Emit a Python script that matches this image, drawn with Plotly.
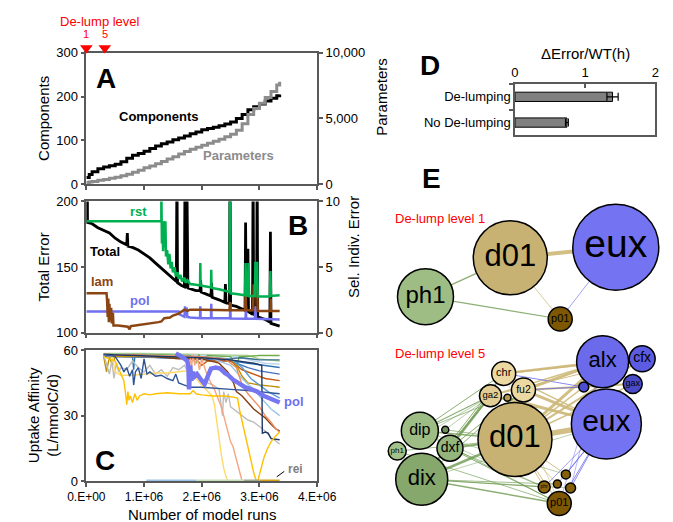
import plotly.graph_objects as go

W, H = 673, 522
FONT = "Liberation Sans, Arial, Helvetica, sans-serif"
AX = "#595959"

# ---------------- Panel A (runs in millions) ----------------
a_runs = [0, 0.05, 0.1, 0.2, 0.3, 0.4, 0.5, 0.6, 0.7, 0.8, 0.9, 1.0, 1.1, 1.2, 1.3, 1.4, 1.5, 1.6,
          1.7, 1.8, 1.9, 2.0, 2.1, 2.2, 2.3, 2.4, 2.5, 2.6, 2.7, 2.8, 2.9, 3.0, 3.1, 3.2, 3.3, 3.35]
a_components = [15, 22, 28, 35, 39, 42, 45, 51, 59, 66, 70, 75, 81, 87, 92, 96, 101, 105,
                110, 115, 119, 124, 127, 130, 133, 137, 142, 150, 159, 170, 177, 183, 190, 196, 202, 205]
a_parameters = [120, 150, 200, 280, 350, 430, 520, 620, 750, 900, 1050, 1230, 1380, 1550, 1720, 1900, 2080, 2280,
                2480, 2650, 2800, 2960, 3100, 3260, 3420, 3600, 3800, 4100, 4600, 5300, 5750, 6150, 6600, 7050, 7550, 7800]
delump_runs = [0, 0.32]
delump_levels = ["1", "5"]

# ---------------- Panel B ----------------
b_total_runs = [0, 0.005, 0.015, 0.02, 0.1, 0.2, 0.3, 0.4, 0.5, 0.6, 0.7, 0.71, 0.72, 0.8, 0.9, 1.0, 1.1, 1.2, 1.3,
                1.4, 1.5, 1.56, 1.57, 1.58, 1.65, 1.70, 1.71, 1.73, 1.74, 1.76, 1.9, 1.97, 1.98, 1.99, 2.1, 2.16,
                2.17, 2.18, 2.3, 2.4, 2.41, 2.42, 2.48, 2.49, 2.50, 2.6, 2.7, 2.75, 2.76, 2.77, 2.79, 2.80, 2.81,
                2.88, 2.89, 2.90, 2.95, 2.96, 2.97, 3.1, 3.18, 3.19, 3.2, 3.3, 3.35]
b_total = [183, 230, 230, 184, 183, 180, 178, 176, 172, 169, 167, 176, 166, 165, 163, 160, 157, 153, 149,
           145, 141, 139, 230, 138, 136, 135, 230, 134, 230, 134, 132, 132, 140, 131, 129, 128,
           138, 127, 125, 123, 137, 123, 122, 230, 121, 120, 118, 117, 184, 117, 116, 164, 116,
           114, 230, 114, 113, 230, 112, 110, 108, 177, 107, 106, 105]

b_rst_runs = [0, 1.30, 1.30, 1.305, 1.31, 1.32, 1.33, 1.34, 1.36, 1.37, 1.38, 1.40, 1.42, 1.44, 1.46, 1.48,
              1.50, 1.53, 1.55, 1.58, 1.60, 1.63, 1.66, 1.70, 1.72, 1.75, 1.80, 1.90, 1.97, 1.975, 1.98, 2.10,
              2.16, 2.165, 2.17, 2.30, 2.48, 2.49, 2.50, 2.60, 2.75, 2.76, 2.77, 2.80, 2.81, 2.82, 2.92, 2.93,
              2.96, 2.97, 3.10, 3.18, 3.19, 3.20, 3.35]
b_rst = [8.5, 8.5, 10.5, 8.5, 6.8, 8.5, 6.2, 8.5, 6.5, 8.5, 5.8, 6.3, 5.2, 6.0, 4.9, 5.4,
         4.6, 5.0, 4.3, 4.6, 4.1, 4.4, 3.9, 4.2, 3.8, 4.0, 3.7, 3.65, 3.6, 5.3, 3.6, 3.5,
         3.45, 4.8, 3.4, 3.3, 3.1, 10.5, 3.0, 2.95, 2.85, 5.3, 2.85, 2.8, 5.3, 2.8, 2.8, 5.3,
         5.3, 2.75, 2.75, 2.75, 4.7, 2.8, 2.85]

b_lam_runs = [0, 0.35, 0.36, 0.37, 0.38, 0.39, 0.40, 0.41, 0.43, 0.44, 0.46, 0.47, 0.55, 0.65, 0.72, 0.75,
              0.77, 0.85, 0.95, 1.05, 1.15, 1.25, 1.30, 1.35, 1.45, 1.50, 1.60, 1.65, 1.70, 1.75, 1.80, 2.0,
              2.2, 2.48, 2.49, 2.50, 2.75, 2.76, 2.77, 2.89, 2.90, 2.96, 2.97, 3.19, 3.195, 3.20, 3.35]
b_lam = [3.0, 3.0, 2.4, 1.2, 2.6, 0.8, 2.2, 0.9, 1.9, 0.7, 1.5, 0.55, 0.55, 0.5, 0.45, 0.25,
         0.5, 0.55, 0.6, 0.65, 0.7, 0.8, 0.85, 1.1, 1.15, 1.3, 1.45, 1.6, 1.75, 1.65, 1.75, 1.75,
         1.75, 1.7, 2.3, 1.7, 1.7, 3.0, 1.7, 1.7, 3.6, 3.6, 1.65, 1.65, 2.6, 1.65, 1.65]

b_pol_runs = [0, 1.60, 1.61, 1.65, 1.70, 1.71, 1.72, 1.74, 1.75, 1.80, 1.97, 1.975, 1.98, 2.16, 2.165, 2.17,
              2.49, 2.495, 2.50, 2.76, 2.765, 2.77, 2.92, 2.93, 2.94, 3.35]
b_pol = [1.6, 1.6, 1.4, 1.3, 1.2, 2.0, 1.3, 1.9, 1.2, 1.15, 1.1, 2.0, 1.1, 1.1, 2.2, 1.1,
         1.1, 2.3, 1.08, 1.05, 2.0, 1.05, 1.05, 2.0, 1.05, 1.0]

# ---------------- Panel C (uptake affinity per taxon) ----------------
c_gold_runs = [0.30, 0.40, 0.50, 0.55, 0.60, 0.65, 0.68, 0.70, 0.72, 0.74, 0.76, 0.80, 0.84, 0.88, 0.92, 1.00,
               1.10, 1.20, 1.40, 1.60, 1.80, 1.85, 1.90, 2.00, 2.20, 2.40, 2.55, 2.62, 2.66, 2.72, 2.78, 2.84,
               2.90, 2.94, 2.97, 3.02, 3.08, 3.14, 3.20, 3.26, 3.35]
c_gold = [57, 56, 55, 52, 49, 46, 40, 35, 41, 37, 39, 36, 40, 37, 39, 40,
          39.5, 40, 40.5, 40, 40, 41.5, 40, 39.5, 39, 39, 38.5, 38, 32, 25, 18, 10,
          4, 0.5, 0, 5, 11, 15, 18, 20, 22.5]
c_ltgold_runs = [0.30, 0.45, 0.50, 0.60, 0.80, 1.00, 1.20, 1.40, 1.60, 1.75, 1.80, 1.90, 2.00, 2.10, 2.18,
                 2.22, 2.26, 2.30, 2.34, 2.38, 2.42, 2.46, 2.55, 2.70]
c_ltgold = [58, 57, 50, 48.5, 48.5, 49, 49.5, 49.5, 50, 50.5, 49, 47, 44, 41, 39, 35, 27, 20, 12, 6, 2, 0, 0, 0]
c_salmon_runs = [0.30, 0.80, 1.20, 1.60, 1.80, 1.82, 1.85, 1.88, 1.92, 1.96, 2.00, 2.05, 2.10, 2.16, 2.22,
                 2.28, 2.34, 2.38, 2.42, 2.46, 2.50, 2.54, 2.58, 2.62, 2.66, 2.70]
c_salmon = [58, 57.5, 57.5, 57, 57, 52, 58, 53, 57, 51, 56, 52, 48, 45, 42, 38, 34, 30, 26, 22, 18, 16, 12, 8, 3, 0]
c_orange_runs = [0.30, 1.50, 2.00, 2.40, 2.60, 2.70, 2.80, 2.90, 3.00, 3.10, 3.20, 3.28, 3.35]
c_orange = [58, 57.5, 57, 56, 52, 44, 40, 37, 34, 30, 27, 24, 22.5]
c_gray_runs = [0.30, 0.36, 0.40, 0.44, 0.48, 0.52, 0.56, 0.60, 0.70, 0.80, 0.90, 1.00, 1.10, 1.20, 1.30, 1.40,
               1.50, 1.60, 1.70, 1.80, 1.90, 2.00, 2.10, 2.20, 2.30, 2.36, 2.38, 2.42, 2.46, 2.50, 2.60, 2.70,
               2.80, 2.90, 3.00, 3.10, 3.20, 3.35]
c_gray = [58, 52, 49, 55, 47, 54, 50, 52, 51, 55, 52, 50, 53, 49, 51, 48,
          52, 51, 53, 48, 50, 47, 45, 44, 42, 30, 41, 36, 40, 34, 32, 30,
          28, 27, 25, 23, 20, 17]
c_dkblue_runs = [0.30, 0.50, 0.60, 0.65, 0.70, 0.75, 0.80, 0.82, 0.85, 0.90, 0.95, 1.00, 1.05, 1.10, 1.20,
                 1.30, 1.40, 1.50, 1.55, 1.60, 1.70, 1.80, 2.00, 2.20, 2.50, 2.80, 3.00, 3.20, 3.35]
c_dkblue = [58, 57, 53, 50, 52, 48, 51, 44, 50, 52, 47, 56, 49, 50, 48,
            48.5, 47, 46, 49, 45, 44, 43, 43, 42.5, 42, 41.5, 41, 40.5, 40]
c_navy_runs = [0.30, 1.00, 2.00, 2.50, 2.90, 3.04, 3.05, 3.10, 3.15, 3.20, 3.35]
c_navy = [58, 57.5, 56.5, 55.5, 54, 53, 22, 22.5, 22, 19.5, 19]
c_brown_runs = [0.30, 1.00, 1.60, 2.00, 2.30, 2.45, 2.55, 2.60, 2.70, 2.80, 2.90, 3.00, 3.10, 3.20, 3.28, 3.35]
c_brown = [58, 57.5, 56, 56, 54, 50, 45, 41, 39, 36, 33, 31, 29, 26, 24, 23]
c_ltblue_runs = [0.30, 1.00, 1.80, 2.20, 2.50, 2.70, 2.90, 3.00, 3.10, 3.20, 3.35]
c_ltblue = [58, 57.5, 57, 56, 53, 47, 42, 39, 36, 33, 30]
c_blue_runs = [0.30, 1.00, 2.00, 2.50, 2.70, 2.85, 3.00, 3.15, 3.35]
c_blue = [58, 57.5, 57, 56, 52, 47, 44, 41, 38]
c_green_runs = [0.30, 1.00, 1.80, 1.90, 1.95, 2.00, 2.10, 2.50, 2.60, 2.65, 2.70, 3.00, 3.35]
c_green = [58, 58, 57.5, 54, 58, 55, 57.5, 57, 52, 57, 57, 57.5, 57.5]
c_dkgold_runs = [0.30, 0.35, 0.40, 0.45, 0.50, 1.00, 2.00, 2.50, 2.60, 2.70, 2.80, 3.00, 3.20, 3.35]
c_dkgold = [57, 50, 57, 53, 57, 57, 56.5, 56, 53, 48, 45, 44, 43.5, 43]
c_rust_runs = [0.30, 1.00, 1.50, 1.90, 2.00, 2.10, 2.50, 2.70, 2.90, 3.10, 3.35]
c_rust = [58, 57.5, 57, 56, 53, 55, 55, 51, 49, 47, 46]
c_ltgreen_runs = [0.30, 1.00, 2.00, 2.80, 3.00, 3.35]
c_ltgreen = [58.5, 58.5, 58, 57.5, 56, 55]
c_steel_runs = [0.30, 0.80, 0.82, 0.84, 1.00, 1.30, 1.60, 2.00, 2.40, 2.80, 3.10, 3.35]
c_steel = [57.5, 57, 51, 57, 57, 56.5, 56.5, 56, 55.5, 54, 53, 52]
c_midblue_runs = [0.30, 1.50, 2.50, 2.80, 3.00, 3.35]
c_midblue = [57, 56.5, 55, 52, 50.5, 49]
c_paleblue_runs = [0.30, 1.20, 2.20, 2.60, 2.90, 3.10, 3.35]
c_paleblue = [58, 58, 57.5, 57, 55, 54, 53.5]
c_teal_runs = [0.30, 0.90, 1.40, 1.90, 2.40, 2.70, 3.00, 3.35]
c_teal = [57.5, 57.5, 57, 56.5, 56, 56.5, 55.5, 55.5]
c_pol_runs = [1.55, 1.60, 1.65, 1.70, 1.75, 1.77, 1.78, 1.80, 1.82, 1.84, 1.88, 1.92, 1.96, 2.00, 2.05,
              2.10, 2.16, 2.24, 2.32, 2.40, 2.46, 2.54, 2.65, 2.75, 2.86, 2.96, 3.08, 3.20, 3.35]
c_pol = [58.5, 58, 57, 56, 55, 52, 42, 53, 46, 50, 48, 49, 47, 46, 44.5,
         48, 51.5, 52, 51.5, 49.5, 48.5, 46.5, 44.5, 43, 42, 41, 39, 37.5, 36]
rei_starts = [1.04, 1.91, 2.73, 3.00]
rei_ends = [1.91, 2.73, 3.00, 3.35]
rei_value = 0

# ---------------- Panel D ----------------
d_labels = ["No De-lumping", "De-lumping"]
d_values = [0.74, 1.39]
d_errors = [0.02, 0.08]

# ---------------- Panel E (network layouts, pixel units) ----------------
e1_names = ["d01", "eux", "ph1", "p01"]
e1_group = ["tan", "blue", "green", "brown"]
e1_x = [513, 625, 423, 566]
e1_y = [250, 239, 290, 313]
e1_r = [37, 43, 28, 12]
e1_src = ["d01", "ph1", "ph1", "d01", "eux"]
e1_dst = ["eux", "d01", "p01", "p01", "p01"]
e1_w = [4, 1.5, 1.2, 0.8, 0.8]

e5_names = ["alx", "cfx", "gax", "bx1", "eux", "d01", "chr", "fu2", "ga2", "tn1",
            "dip", "gn1", "dxf", "ph1", "dix", "br1", "phr", "br2", "br3", "p01"]
e5_group = ["blue", "blue", "blue", "blue", "blue", "tan", "tan", "tan", "tan", "tan",
            "green", "green", "green", "green", "green", "brown", "brown", "brown", "brown", "brown"]
e5_x = [611, 653, 643, 591, 615, 518, 506, 527, 492, 510, 417, 444, 449, 393, 419, 572, 549, 563, 577, 565]
e5_y = [357, 354, 380, 383, 421, 437, 369, 386, 392, 394, 428, 427, 446, 449, 478, 473, 486, 483, 487, 503]
e5_r = [26, 13, 9.5, 5, 35, 37, 12, 12, 11, 3.5, 18.5, 3.5, 13, 9, 26, 4.5, 6, 4, 5, 12]
e5_label = ["alx", "cfx", "gax", "", "eux", "d01", "chr", "fu2", "ga2", "",
            "dip", "", "dxf", "ph1", "dix", "", "phr", "", "", "p01"]
e5_src = ["d01", "d01", "fu2", "fu2", "chr", "chr", "ga2", "ga2", "d01", "chr", "fu2", "d01", "tn1", "tn1",
          "d01", "bx1", "bx1", "ga2", "d01", "d01", "d01", "d01", "chr",
          "eux", "eux", "eux", "eux", "eux", "alx", "alx",
          "dip", "dip", "dip", "dip", "dxf", "dxf", "dxf", "dxf", "dix", "dix", "dix", "dix", "dix", "dix",
          "dix", "dix", "dip", "dip", "dxf", "dxf", "ph1", "ph1", "gn1", "gn1", "ph1", "dip", "dix"]
e5_dst = ["eux", "alx", "eux", "alx", "alx", "eux", "eux", "alx", "cfx", "cfx", "gax", "gax", "eux", "alx",
          "bx1", "chr", "fu2", "cfx", "phr", "br1", "br2", "p01", "p01",
          "br1", "br3", "p01", "phr", "br2", "p01", "br3",
          "chr", "ga2", "fu2", "d01", "ga2", "d01", "chr", "fu2", "d01", "ga2", "fu2", "chr", "p01", "phr",
          "br2", "br3", "p01", "phr", "p01", "phr", "d01", "p01", "d01", "ga2", "ga2", "br1", "eux"]
e5_w = [5.5, 3, 3, 2.5, 2.5, 1.5, 2, 1.5, 2, 1.5, 2, 1.5, 1.5, 1,
        1.5, 1, 1, 1, 1, 1, 0.8, 1, 0.6,
        1, 1, 1, 0.8, 0.8, 0.6, 0.6,
        1, 1.2, 0.8, 1.5, 1.5, 2, 1, 1, 2.5, 1.5, 1, 1, 1.5, 1,
        0.8, 0.6, 0.8, 0.6, 1, 0.8, 0.8, 0.8, 0.8, 0.6, 0.6, 0.6, 0.6]

# ================= styles =================
EDGE_COL = {"tan": "rgba(205,184,120,0.9)", "green": "rgba(110,155,80,0.8)",
            "blue": "rgba(90,90,240,0.7)", "brown": "rgba(140,100,20,0.6)"}
NODE_COL = {"tan": "#c8b273", "blue": "#7474f2", "green": "#9dbd85", "brown": "#7d5702"}
E5_FILL = ["#6a6aea", "#5c5ce2", "#4b4bc8", "#4d4dd0", "#7474f2", "#c8b273", "#ecd9a2", "#ecd9a2",
           "#e2cd94", "#b69a55", "#9dbd85", "#6f8f5a", "#94b57c", "#a3c28b", "#86a86c",
           "#84600a", "#8a650c", "#84600a", "#84600a", "#7d5702"]
E5_FS = [22, 14, 9, 4, 30, 31, 11, 10.5, 9.5, 4, 16, 4, 14, 8, 22, 4, 5, 4, 4, 11]
E1_FS = [31, 39, 24, 11]

C_LINES = [
    (c_ltgreen_runs, c_ltgreen, "#a9d18e"), (c_paleblue_runs, c_paleblue, "#bdd7ee"),
    (c_green_runs, c_green, "#70ad47"), (c_teal_runs, c_teal, "#3b6e8f"),
    (c_steel_runs, c_steel, "#2e75b6"), (c_midblue_runs, c_midblue, "#4472c4"),
    (c_rust_runs, c_rust, "#c55a11"), (c_dkgold_runs, c_dkgold, "#bf9000"),
    (c_ltblue_runs, c_ltblue, "#9dc3e6"), (c_blue_runs, c_blue, "#5b9bd5"),
    (c_brown_runs, c_brown, "#843c0c"), (c_orange_runs, c_orange, "#f08c5a"),
    (c_gray_runs, c_gray, "#bdbdbd"), (c_salmon_runs, c_salmon, "#f4a582"),
    (c_ltgold_runs, c_ltgold, "#ffd966"), (c_navy_runs, c_navy, "#1f3864"),
    (c_dkblue_runs, c_dkblue, "#2f5597"), (c_gold_runs, c_gold, "#ffc000"),
]
REI_COLS = ["#9dc3e6", "#c5e0b4", "#9fa88a", "#d4a017"]


def px(x):
    return x / W


def py(y):
    return 1 - y / H


fig = go.Figure()

# Panel A
fig.add_trace(go.Scatter(x=a_runs, y=a_components, mode="lines",
                         line=dict(color="black", width=3, shape="hv"), xaxis="x", yaxis="y"))
fig.add_trace(go.Scatter(x=a_runs, y=a_parameters, mode="lines",
                         line=dict(color="#8c8c8c", width=3, shape="hv"), xaxis="x", yaxis="y2"))
# de-lump markers in a thin strip above panel A
fig.add_trace(go.Scatter(x=delump_runs, y=[0.5] * len(delump_runs), mode="markers", cliponaxis=False,
                         marker=dict(symbol="triangle-down", size=11, color="#ff0000"),
                         xaxis="x", yaxis="y8"))

# Panel B
fig.add_trace(go.Scatter(x=b_total_runs, y=b_total, mode="lines",
                         line=dict(color="black", width=2.8), xaxis="x2", yaxis="y3"))
fig.add_trace(go.Scatter(x=b_pol_runs, y=b_pol, mode="lines",
                         line=dict(color="#7070f0", width=2.5), xaxis="x2", yaxis="y4"))
fig.add_trace(go.Scatter(x=b_lam_runs, y=b_lam, mode="lines",
                         line=dict(color="#8b4513", width=2.5), xaxis="x2", yaxis="y4"))
fig.add_trace(go.Scatter(x=b_rst_runs, y=b_rst, mode="lines",
                         line=dict(color="#00b050", width=2.5), xaxis="x2", yaxis="y4"))

# Panel C
for xs, ys, col in C_LINES:
    fig.add_trace(go.Scatter(x=xs, y=ys, mode="lines", line=dict(color=col, width=1.4),
                             xaxis="x3", yaxis="y5"))
fig.add_trace(go.Scatter(x=c_pol_runs, y=c_pol, mode="lines", line=dict(color="#7676f2", width=4.5),
                         xaxis="x3", yaxis="y5"))
for s, e, col in zip(rei_starts, rei_ends, REI_COLS):
    fig.add_trace(go.Scatter(x=[s, e], y=[rei_value, rei_value], mode="lines", cliponaxis=False,
                             line=dict(color=col, width=3.5), xaxis="x3", yaxis="y5"))

# Panel D
fig.add_trace(go.Bar(x=d_values, y=d_labels, orientation="h", width=0.36,
                     marker=dict(color="#808080", line=dict(color="black", width=1)),
                     error_x=dict(type="data", array=d_errors, color="black", thickness=1.2, width=4),
                     xaxis="x4", yaxis="y6"))


# Panel E
def draw_network(names, groups, xs, ys, rs, labels, fills, fsizes, src, dst, wts):
    idx = {n: i for i, n in enumerate(names)}
    for a, b, w in zip(src, dst, wts):
        i, j = idx[a], idx[b]
        fig.add_trace(go.Scatter(x=[xs[i], xs[j]], y=[ys[i], ys[j]], mode="lines",
                                 line=dict(color=EDGE_COL[groups[i]], width=w),
                                 cliponaxis=False, xaxis="x5", yaxis="y7", hoverinfo="skip"))
    fig.add_trace(go.Scatter(x=xs, y=ys, mode="markers+text", text=labels, cliponaxis=False,
                             textposition="middle center",
                             textfont=dict(size=fsizes, color="black", family=FONT),
                             marker=dict(size=[2 * r for r in rs], color=fills,
                                         line=dict(color="black", width=1.5), opacity=1),
                             xaxis="x5", yaxis="y7"))


draw_network(e1_names, e1_group, e1_x, e1_y, e1_r, e1_names,
             [NODE_COL[g] for g in e1_group], E1_FS, e1_src, e1_dst, e1_w)
draw_network(e5_names, e5_group, e5_x, e5_y, e5_r, e5_label, E5_FILL, E5_FS, e5_src, e5_dst, e5_w)

# ---------------- layout ----------------
common = dict(showgrid=False, zeroline=False, showline=True, linecolor=AX, linewidth=1.5,
              ticks="outside", ticklen=4, tickcolor=AX, tickwidth=1.5,
              tickfont=dict(size=13, color="black", family=FONT))
xdom = [px(63), px(308)]

layout_axes = dict(
    xaxis=dict(domain=xdom, range=[0, 4], anchor="y", tickvals=[0, 1, 2, 3, 4],
               showticklabels=False, mirror=True, **common),
    yaxis=dict(domain=[py(174), py(39)], range=[0, 300], anchor="x", tickvals=[0, 100, 200, 300], **common),
    yaxis2=dict(overlaying="y", side="right", anchor="x", range=[0, 10000], tickvals=[0, 5000, 10000],
                ticktext=["0", "5,000", "10,000"], **common),
    yaxis8=dict(domain=[py(39), py(29)], range=[0, 1], anchor="x", visible=False),
    xaxis2=dict(domain=xdom, range=[0, 4], anchor="y3", tickvals=[0, 1, 2, 3, 4],
                showticklabels=False, mirror=True, **common),
    yaxis3=dict(domain=[py(327), py(192)], range=[100, 200], anchor="x2", tickvals=[100, 150, 200], **common),
    yaxis4=dict(overlaying="y3", side="right", anchor="x2", range=[0, 10], tickvals=[0, 5, 10], **common),
    xaxis3=dict(domain=xdom, range=[0, 4], anchor="y5", tickvals=[0, 1, 2, 3, 4],
                ticktext=["0.E+00", "1.E+06", "2.E+06", "3.E+06", "4.E+06"], mirror=True,
                **{**common, "tickfont": dict(size=12, color="black", family=FONT)}),
    yaxis5=dict(domain=[py(480), py(345)], range=[0, 60], anchor="x3", tickvals=[0, 30, 60], mirror=True,
                **common),
    xaxis4=dict(domain=[px(518), px(667)], range=[0, 2], anchor="y6", side="top", tickvals=[0, 1, 2],
                mirror=True, **{**common, "ticks": "inside"}),
    yaxis6=dict(domain=[py(124), py(71)], anchor="x4", type="category", categoryorder="array",
                categoryarray=d_labels, range=[-0.5, 1.5], tickson="boundaries", mirror=True, **common),
    xaxis5=dict(domain=[px(380), 1], range=[380, 673], anchor="y7", visible=False),
    yaxis7=dict(domain=[0, py(140)], range=[522, 140], anchor="x5", visible=False),
)


def ann(text, x, y, size, color="black", bold=False, angle=0, xanchor="center"):
    return dict(text=f"<b>{text}</b>" if bold else text, x=px(x), y=py(y), xref="paper", yref="paper",
                showarrow=False, font=dict(size=size, color=color, family=FONT), textangle=angle,
                xanchor=xanchor, yanchor="middle")


annotations = [
    ann("De-lump level", 77, 7, 13, "#ff0000"),
    ann("A", 84, 65, 28, bold=True),
    ann("B", 288, 217, 28, bold=True),
    ann("C", 83, 459, 28, bold=True),
    ann("D", 428, 52, 28, bold=True),
    ann("E", 429, 168, 28, bold=True),
    ann("Components", 140, 105, 13, bold=True),
    ann("Parameters", 224, 145, 13, "#8c8c8c", bold=True),
    ann("rst", 118, 202, 13, "#00b050", bold=True),
    ann("Total", 83, 244, 13, bold=True),
    ann("lam", 80, 274, 13, "#8b4513", bold=True),
    ann("pol", 120, 294, 13, "#6f6ff0", bold=True),
    ann("pol", 283, 398, 13, "#6f6ff0", bold=True),
    ann("rei", 285, 467, 12, "#7f7f7f", bold=True),
    ann("Components", 18, 106, 15, angle=-90),
    ann("Parameters", 376, 84, 15, angle=-90),
    ann("Total Error", 18, 259, 15, angle=-90),
    ann("Sel. Indiv. Error", 346, 239, 15, angle=-90),
    ann("Uptake Affinity<br>(L/mmolC/d)", 17, 412, 15, angle=-90),
    ann("Number of model runs", 186, 514, 15),
    ann("ΔError/WT(h)", 593, 40, 15),
    ann("De-lump level 1", 388, 210, 13, "#ff0000", xanchor="left"),
    ann("De-lump level 5", 388, 349, 13, "#ff0000", xanchor="left"),
]
# de-lump level numbers above the markers
for run, lvl in zip(delump_runs, delump_levels):
    annotations.append(dict(text=lvl, x=run, xref="x", y=py(20), yref="paper", showarrow=False,
                            font=dict(size=11, color="#ff0000", family=FONT),
                            xanchor="center", yanchor="middle"))

shapes = [dict(type="line", xref="x3", yref="y5", x0=3.30, y0=2, x1=3.43, y1=4.5,
               line=dict(color="black", width=1))]

fig.update_layout(width=W, height=H, margin=dict(l=0, r=0, t=0, b=0), showlegend=False,
                  plot_bgcolor="white", paper_bgcolor="white", font=dict(family=FONT),
                  annotations=annotations, shapes=shapes, **layout_axes)

fig.write_html("out.html")
